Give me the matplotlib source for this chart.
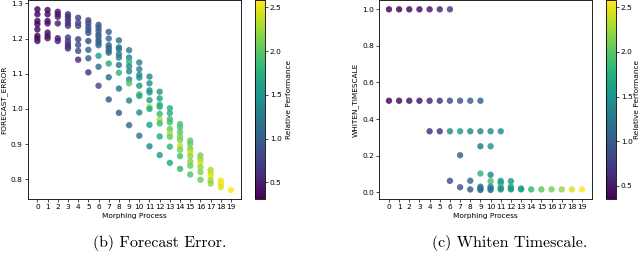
import matplotlib
matplotlib.use("Agg")
import matplotlib.pyplot as plt
import numpy as np

# ---- Panel (b): Forecast error per morphing step ----
fe_steps = [0]*8 + [1]*7 + [2]*6 + [3]*10 + [4]*7 + [5]*9 + [6]*11 + [7]*9 + [8]*9 + [9]*9 \
    + [10]*9 + [11]*9 + [12]*9 + [13]*9 + [14]*9 + [15]*8 + [16]*6 + [17]*5 + [18]*3 + [19]*1
fe_values = [
    1.283, 1.269, 1.250, 1.241, 1.226, 1.208, 1.201, 1.193,
    1.281, 1.269, 1.250, 1.243, 1.217, 1.208, 1.201,
    1.276, 1.269, 1.262, 1.243, 1.201, 1.193,
    1.269, 1.261, 1.252, 1.243, 1.236, 1.203, 1.193, 1.186, 1.179, 1.172,
    1.259, 1.245, 1.236, 1.198, 1.182, 1.165, 1.140,
    1.252, 1.243, 1.233, 1.224, 1.216, 1.193, 1.168, 1.144, 1.104,
    1.239, 1.231, 1.222, 1.212, 1.205, 1.195, 1.188, 1.181, 1.151, 1.120, 1.066,
    1.219, 1.200, 1.181, 1.174, 1.166, 1.160, 1.129, 1.090, 1.027,
    1.195, 1.175, 1.170, 1.156, 1.146, 1.125, 1.103, 1.058, 0.989,
    1.167, 1.146, 1.134, 1.121, 1.107, 1.084, 1.073, 1.024, 0.954,
    1.132, 1.113, 1.097, 1.089, 1.066, 1.042, 1.037, 0.990, 0.924,
    1.092, 1.073, 1.053, 1.047, 1.025, 1.005, 1.000, 0.955, 0.894,
    1.049, 1.030, 1.012, 1.006, 0.986, 0.970, 0.959, 0.922, 0.869,
    1.002, 0.988, 0.971, 0.962, 0.943, 0.931, 0.921, 0.893, 0.847,
    0.957, 0.948, 0.934, 0.921, 0.912, 0.896, 0.884, 0.866, 0.830,
    0.910, 0.901, 0.887, 0.877, 0.866, 0.851, 0.839, 0.814,
    0.868, 0.858, 0.849, 0.835, 0.821, 0.799,
    0.827, 0.818, 0.809, 0.797, 0.788,
    0.797, 0.788, 0.778,
    0.770,
]
fe_perf = [
    0.31, 0.33, 0.35, 0.34, 0.36, 0.38, 0.37, 0.40,
    0.35, 0.37, 0.39, 0.40, 0.42, 0.42, 0.44,
    0.45, 0.46, 0.48, 0.47, 0.50, 0.52,
    0.55, 0.60, 0.62, 0.66, 0.70, 0.72, 0.76, 0.80, 0.62, 0.58,
    0.72, 0.78, 0.80, 0.72, 0.86, 0.82, 0.55,
    0.80, 0.85, 0.88, 0.92, 0.95, 0.78, 1.05, 1.00, 0.62,
    0.90, 0.95, 0.98, 1.00, 1.02, 0.95, 1.00, 1.05, 1.60, 1.10, 0.80,
    1.00, 1.05, 1.08, 1.05, 1.10, 1.12, 1.70, 1.10, 0.90,
    1.12, 1.15, 1.18, 1.20, 1.22, 1.20, 1.80, 1.20, 0.95,
    1.25, 1.30, 1.80, 1.35, 1.40, 1.35, 1.95, 1.30, 1.10,
    1.30, 1.35, 1.40, 1.45, 1.50, 2.05, 1.60, 1.40, 1.20,
    1.40, 1.45, 1.50, 1.55, 1.60, 2.20, 1.70, 1.60, 1.40,
    1.55, 1.60, 1.70, 1.75, 1.80, 2.30, 1.85, 1.70, 1.55,
    1.70, 1.75, 1.85, 1.90, 2.00, 2.30, 2.05, 1.80, 1.65,
    1.90, 1.95, 2.00, 2.10, 2.15, 2.35, 2.10, 1.90, 1.80,
    2.00, 2.05, 2.10, 2.40, 2.20, 2.15, 2.05, 1.95,
    2.10, 2.20, 2.40, 2.20, 2.15, 2.05,
    2.30, 2.35, 2.50, 2.25, 2.20,
    2.55, 2.50, 2.45,
    2.58,
]

# ---- Panel (c): Whiten timescale per morphing step ----
wt_steps = [0, 0, 1, 1, 2, 2, 3, 3,
            4, 4, 4, 5, 5, 5,
            6, 6, 6, 6,
            7, 7, 7, 7,
            8, 8, 8, 8,
            9, 9, 9, 9, 9, 9, 9,
            10, 10, 10, 10, 10, 10, 10,
            11, 11, 11, 11, 11, 11,
            12, 12, 12, 12,
            13, 13, 14, 15, 16, 17, 18, 19]
wt_values = [1.0, 0.5, 1.0, 0.5, 1.0, 0.5, 1.0, 0.5,
             1.0, 0.5, 0.333, 1.0, 0.5, 0.333,
             1.0, 0.5, 0.333, 0.062,
             0.5, 0.333, 0.202, 0.027,
             0.5, 0.333, 0.0625, 0.015,
             0.5, 0.333, 0.251, 0.102, 0.030, 0.020, 0.012,
             0.333, 0.251, 0.095, 0.060, 0.030, 0.020, 0.012,
             0.333, 0.062, 0.050, 0.030, 0.020, 0.015,
             0.060, 0.030, 0.020, 0.015,
             0.020, 0.015, 0.015, 0.015, 0.015, 0.015, 0.015, 0.015]
wt_perf = [0.35, 0.38, 0.36, 0.40, 0.38, 0.42, 0.40, 0.45,
           0.45, 0.55, 0.62, 0.55, 0.65, 0.68,
           0.70, 0.85, 1.40, 0.90,
           0.95, 1.55, 1.00, 0.95,
           1.00, 1.35, 1.10, 0.95,
           1.05, 1.35, 1.20, 1.80, 1.30, 1.25, 1.10,
           1.40, 1.50, 1.35, 1.90, 1.40, 1.30, 1.20,
           1.40, 1.50, 1.55, 1.95, 1.60, 1.45,
           1.50, 1.70, 1.60, 1.55,
           1.65, 1.60, 1.80, 2.00, 2.10, 2.20, 2.45, 2.58]

xticks = list(range(20))
cbar_ticks = [0.5, 1.0, 1.5, 2.0, 2.5]

plt.rcParams['font.family'] = 'DejaVu Sans'
fs = 5.3
W, H = 640, 254
fig = plt.figure(figsize=(6.4, 2.54), dpi=100)

def box(x0, x1, y0, y1):
    return [x0 / W, 1 - y1 / H, (x1 - x0) / W, (y1 - y0) / H]

panels = [
    (fe_steps, fe_values, fe_perf, "FORECAST_ERROR",
     box(27.7, 240.7, 0.3, 199), box(255, 265, 0.3, 199), "(b) Forecast Error.", 160, 3),
    (wt_steps, wt_values, wt_perf, "WHITEN_TIMESCALE",
     box(379.3, 591.7, 0.3, 199), box(606, 616, 0.3, 199), "(c) Whiten Timescale.", 510, 0.8),
]

for steps, vals, perf, ylab, abox, cbox, cap, capx, lpad in panels:
    ax = fig.add_axes(abox)
    sc = ax.scatter(steps, vals, c=perf, cmap='viridis', s=21, alpha=0.82,
                    linewidths=0, vmin=min(perf), vmax=max(perf))
    ax.set_xticks(xticks)
    ax.set_xticklabels([str(t) for t in xticks])
    ax.tick_params(labelsize=fs, length=2, width=0.5, pad=1.5)
    for sp in ax.spines.values():
        sp.set_linewidth(0.6)
    ax.set_xlabel("Morphing Process", fontsize=fs, labelpad=2)
    ax.set_ylabel(ylab, fontsize=fs, labelpad=3)
    cax = fig.add_axes(cbox)
    cb = fig.colorbar(sc, cax=cax)
    cb.solids.set_alpha(1)
    cb.set_ticks(cbar_ticks)
    cb.ax.tick_params(labelsize=fs, length=2, width=0.5, pad=1.5)
    cb.outline.set_linewidth(0.6)
    cb.set_label("Relative Performance", fontsize=fs, labelpad=lpad)
    fig.text(capx / W, 1 - 243 / H, cap, ha='center', va='center',
             fontsize=11.5, family='cmr10')

fig.savefig("out.png", dpi=100)
